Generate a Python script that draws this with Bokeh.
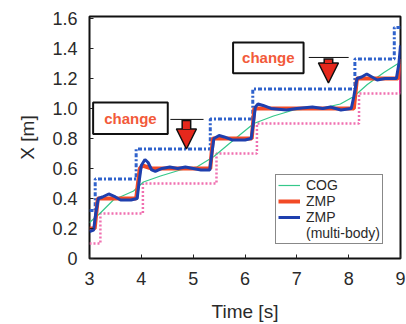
from bokeh.plotting import figure
from bokeh.models import (Legend, LegendItem, BoxAnnotation, Label,
                          Arrow, NormalHead, FixedTicker, Range1d)
from bokeh.embed import file_html
from bokeh.resources import INLINE

# ---------------- data ----------------
x_ticks = [3, 4, 5, 6, 7, 8, 9]
x_tick_labels = ["3", "4", "5", "6", "7", "8", "9"]
y_ticks = [0, 0.2, 0.4, 0.6, 0.8, 1.0, 1.2, 1.4, 1.6]
y_tick_labels = ["0", "0.2", "0.4", "0.6", "0.8", "1.0", "1.2", "1.4", "1.6"]

cog_t = [3.0, 3.2, 3.46, 3.85, 4.04, 4.37, 4.75, 5.07, 5.4, 5.78, 6.17, 6.55,
         6.94, 7.46, 7.84, 8.1, 8.36, 8.68, 9.0]
cog_x = [0.24, 0.30, 0.39, 0.45, 0.51, 0.55, 0.59, 0.61, 0.68, 0.79, 0.90, 0.95,
         0.99, 1.00, 1.03, 1.08, 1.16, 1.24, 1.31]

zmp_t = [3.0, 3.1, 3.16, 3.9, 3.97, 4.02, 4.2, 5.33, 5.38, 6.13, 6.18, 8.1, 8.16, 8.95, 9.0]
zmp_x = [0.2, 0.2, 0.4, 0.4, 0.6, 0.62, 0.6, 0.6, 0.8, 0.8, 1.0, 1.0, 1.2, 1.2, 1.33]

mb_t = [3.0, 3.08, 3.12, 3.17, 3.25, 3.37, 3.5, 3.6, 3.8, 3.92, 3.96, 4.0, 4.07, 4.13,
        4.2, 4.27, 4.4, 4.55, 4.7, 4.85, 5.0, 5.15, 5.32, 5.36, 5.4, 5.5, 5.6, 5.75,
        6.0, 6.12, 6.16, 6.2, 6.25, 6.35, 6.5, 6.8, 7.0, 7.3, 7.5, 7.65, 7.85, 8.05,
        8.1, 8.16, 8.25, 8.35, 8.45, 8.55, 8.7, 8.92, 8.97, 9.0]
mb_x = [0.18, 0.19, 0.30, 0.40, 0.41, 0.43, 0.41, 0.39, 0.39, 0.40, 0.52, 0.62, 0.66, 0.64,
        0.59, 0.58, 0.60, 0.61, 0.60, 0.61, 0.60, 0.59, 0.59, 0.70, 0.80, 0.82, 0.81, 0.79,
        0.79, 0.80, 0.90, 1.01, 1.03, 1.02, 1.00, 0.99, 1.00, 1.01, 1.00, 1.01, 0.99, 1.00,
        1.08, 1.20, 1.21, 1.23, 1.21, 1.19, 1.20, 1.20, 1.30, 1.42]

upper_t = [3.0, 3.11, 3.9, 5.33, 6.15, 8.12, 8.88, 9.0]
upper_x = [0.32, 0.53, 0.73, 0.93, 1.13, 1.33, 1.54, 1.54]

lower_t = [3.0, 3.21, 4.03, 5.45, 6.23, 8.2, 9.0]
lower_x = [0.1, 0.3, 0.5, 0.7, 0.9, 1.1, 1.1]

edge_t = [9.0, 9.0]
edge_x = [1.1, 1.3]

# annotations ("change" boxes, leader lines, arrows)
box_left = [3.07, 5.77]
box_right = [4.51, 7.13]
box_bottom = [0.83, 1.235]
box_top = [1.04, 1.44]
box_text = ["change", "change"]
lead_x0 = [4.56, 7.23]
lead_x1 = [5.2, 8.0]
lead_y = [0.927, 1.34]
arrow_x = [4.87, 7.61]
arrow_top = [0.925, 1.335]
arrow_tip = [0.73, 1.17]

# ---------------- figure ----------------
Y0, Y1 = 0, 1.613
FRAME_H = 242
p = figure(width=406, height=324, output_backend="svg", toolbar_location=None,
           x_range=Range1d(3, 9), y_range=Range1d(Y0, Y1),
           min_border_left=89, min_border_right=6, min_border_top=16,
           min_border_bottom=66)
p.background_fill_color = "white"
p.border_fill_color = "white"
p.outline_line_color = "#111111"
p.outline_line_width = 2
p.xgrid.visible = False
p.ygrid.visible = False

FONT = "Liberation Sans"
TXT = "#2a2a2a"

for ax in (p.xaxis[0], p.yaxis[0]):
    ax.major_tick_in = 4
    ax.major_tick_out = 0
    ax.minor_tick_line_color = None
    ax.axis_line_color = None
    ax.major_tick_line_color = "#222222"
    ax.major_label_text_font = FONT
    ax.major_label_text_font_size = "18px"
    ax.major_label_text_color = TXT
    ax.axis_label_text_font = FONT
    ax.axis_label_text_font_size = "19px"
    ax.axis_label_text_font_style = "normal"
    ax.axis_label_text_color = TXT

p.xaxis.ticker = FixedTicker(ticks=x_ticks)
p.xaxis.major_label_overrides = {t: l for t, l in zip(x_ticks, x_tick_labels)}
p.yaxis.ticker = FixedTicker(ticks=y_ticks)
p.yaxis.major_label_overrides = {t: l for t, l in zip(y_ticks, y_tick_labels)}
p.xaxis.axis_label = "Time [s]"
p.yaxis.axis_label = "X [m]"
p.xaxis.major_label_standoff = 13
p.yaxis.major_label_standoff = 12
p.xaxis.axis_label_standoff = 13
p.yaxis.axis_label_standoff = 11

# ---------------- series ----------------
p.step(lower_t, lower_x, mode="after", line_color="#f070b0", line_width=2.5,
       line_dash="2 2")
p.line(edge_t, edge_x, line_color="#e0409a", line_width=3)
p.step(upper_t, upper_x, mode="after", line_color="#2f62cc", line_width=3,
       line_dash="4 2 2 2")
r_cog = p.line(cog_t, cog_x, line_color="#35c88a", line_width=1.2)
r_zmp = p.line(zmp_t, zmp_x, line_color="#f24a26", line_width=4)
r_mb = p.line(mb_t, mb_x, line_color="#1e3fae", line_width=3)
r_dummy = p.line(x=[], y=[], line_alpha=0)

# ---------------- annotations ----------------
px_per_unit = FRAME_H / (Y1 - Y0)
HEAD = 20
RED = "#e5281c"
for i in range(2):
    p.add_layout(BoxAnnotation(left=box_left[i], right=box_right[i],
                               bottom=box_bottom[i], top=box_top[i],
                               fill_color="white", fill_alpha=1,
                               line_color="#111111", line_alpha=1, line_width=2))
    p.add_layout(Label(x=(box_left[i] + box_right[i]) / 2,
                       y=(box_bottom[i] + box_top[i]) / 2,
                       text=box_text[i], text_align="center", text_baseline="middle",
                       text_font=FONT, text_font_size="15px", text_font_style="bold",
                       text_color="#f25a3a"))
    p.add_layout(Arrow(end=None, x_start=lead_x0[i], y_start=lead_y[i],
                       x_end=lead_x1[i], y_end=lead_y[i],
                       line_color="#111111", line_width=1))
    base = arrow_tip[i] + HEAD / px_per_unit
    p.add_layout(Arrow(end=None, x_start=arrow_x[i], y_start=arrow_top[i],
                       x_end=arrow_x[i], y_end=base - 1 / px_per_unit,
                       line_color="#111111", line_width=10))
    p.add_layout(Arrow(end=NormalHead(size=HEAD, fill_color=RED, line_color="#111111",
                                      line_width=1.5),
                       x_start=arrow_x[i], y_start=arrow_top[i] - 1.5 / px_per_unit,
                       x_end=arrow_x[i], y_end=arrow_tip[i],
                       line_color=RED, line_width=7))

legend = Legend(items=[LegendItem(label="COG", renderers=[r_cog]),
                       LegendItem(label="ZMP", renderers=[r_zmp]),
                       LegendItem(label="ZMP", renderers=[r_mb]),
                       LegendItem(label="(multi-body)", renderers=[r_dummy])],
                location=(186, 14), orientation="vertical",
                label_text_font=FONT, label_text_font_size="14px",
                label_text_line_height=0.85,
                label_text_color=TXT, label_height=12, glyph_height=12,
                glyph_width=22, label_standoff=6, spacing=0, padding=2, margin=0,
                border_line_color="#111111", border_line_width=1.5,
                background_fill_color="white", background_fill_alpha=1)
p.add_layout(legend, "center")

open("out.html", "w").write(file_html(p, INLINE))
